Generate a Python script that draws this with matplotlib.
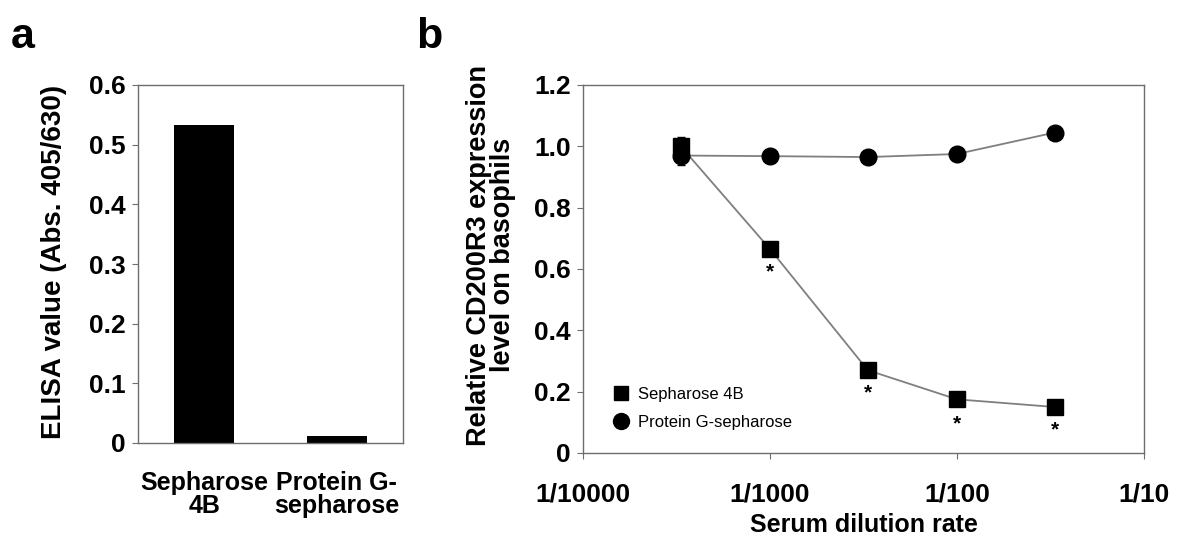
import matplotlib
matplotlib.use("Agg")
import matplotlib.pyplot as plt
from matplotlib.ticker import NullLocator
from matplotlib.lines import Line2D

plt.rcParams['font.family'] = ['Liberation Sans', 'DejaVu Sans']

# panel a
bar_labels = ['Sepharose\n4B', 'Protein G-\nsepharose']
elisa = [0.533, 0.012]

# panel b
dilution = [1/3000, 1/1000, 1/300, 1/100, 1/30]
seph4b = [1.00, 0.665, 0.27, 0.175, 0.15]
seph4b_err = [0.03, 0.01, 0.01, 0.01, 0.01]
protg = [0.97, 0.968, 0.965, 0.975, 1.045]
protg_err = [0.03, 0.005, 0.005, 0.005, 0.015]
star_y = [None, 0.59, 0.195, 0.095, 0.075]
xticks_b = [1e-4, 1e-3, 1e-2, 1e-1]
xticklabels_b = ['1/10000', '1/1000', '1/100', '1/10']

W, H = 1177, 540
fig = plt.figure(figsize=(W / 100, H / 100), dpi=100)

def box(l, t, r, b):
    return [l / W, 1 - b / H, (r - l) / W, (b - t) / H]

spine_col = '#6e6e6e'
TICK_FS = 19

# ---- panel a ----
ax1 = fig.add_axes(box(138, 85, 403, 443))
ax1.bar(range(len(elisa)), elisa, width=0.45, color='black')
ax1.set_xlim(-0.5, 1.5)
ax1.set_ylim(0, 0.6)
ax1.set_yticks([0, 0.1, 0.2, 0.3, 0.4, 0.5, 0.6])
ax1.set_yticklabels(['0', '0.1', '0.2', '0.3', '0.4', '0.5', '0.6'])
ax1.set_xticks(range(len(elisa)))
ax1.set_xticklabels(bar_labels, linespacing=0.95)
ax1.tick_params(axis='x', length=0, pad=20)
ax1.tick_params(axis='y', length=4, color=spine_col, pad=5)
ax1.set_ylabel('ELISA value (Abs. 405/630)', fontsize=20, fontweight='bold')
ax1.yaxis.set_label_coords(-0.267, 0.505)
for lab in ax1.get_xticklabels():
    lab.set_fontsize(18)
    lab.set_fontweight('bold')
for lab in ax1.get_yticklabels():
    lab.set_fontsize(TICK_FS)
    lab.set_fontweight('bold')
for sp in ax1.spines.values():
    sp.set_color(spine_col)
    sp.set_linewidth(1.0)
fig.text(11 / W, 1 - 48 / H, 'a', fontsize=31, fontweight='bold')

# ---- panel b ----
ax2 = fig.add_axes(box(583, 85, 1144, 453))
ax2.set_xscale('log')
ax2.plot(dilution, seph4b, color='#7f7f7f', lw=1.3, zorder=1)
ax2.plot(dilution, protg, color='#7f7f7f', lw=1.3, zorder=1)
ax2.errorbar(dilution, seph4b, yerr=seph4b_err, fmt='s', color='black',
             ms=11, capsize=3, elinewidth=1, zorder=3)
ax2.errorbar(dilution, protg, yerr=protg_err, fmt='o', color='black',
             ms=12, capsize=3, elinewidth=1, zorder=3)
for x, y in zip(dilution, star_y):
    if y is not None:
        ax2.text(x, y, '*', ha='center', va='center', fontsize=15, fontweight='bold')
ax2.set_xlim(1e-4, 1e-1)
ax2.set_ylim(0, 1.2)
ax2.set_xticks(xticks_b)
ax2.set_xticklabels(xticklabels_b)
ax2.xaxis.set_minor_locator(NullLocator())
ax2.set_yticks([0, 0.2, 0.4, 0.6, 0.8, 1.0, 1.2])
ax2.set_yticklabels(['0', '0.2', '0.4', '0.6', '0.8', '1.0', '1.2'])
ax2.tick_params(axis='both', length=4, color=spine_col)
ax2.tick_params(axis='x', pad=17)
ax2.tick_params(axis='y', pad=5)
for lab in ax2.get_xticklabels() + ax2.get_yticklabels():
    lab.set_fontsize(TICK_FS)
    lab.set_fontweight('bold')
ax2.set_xlabel('Serum dilution rate', fontsize=18, fontweight='bold', labelpad=5)
ax2.set_ylabel('Relative CD200R3 expression\nlevel on basophils', fontsize=19.5,
               fontweight='bold', linespacing=0.92)
ax2.yaxis.set_label_coords(-0.119, 0.538)
for sp in ax2.spines.values():
    sp.set_color(spine_col)
    sp.set_linewidth(1.0)
handles = [
    Line2D([], [], ls='none', marker='s', ms=10, color='black', label='Sepharose 4B'),
    Line2D([], [], ls='none', marker='o', ms=11.5, color='black', label='Protein G-sepharose'),
]
ax2.legend(handles=handles, loc='lower left', bbox_to_anchor=(0.035, 0.045),
           frameon=False, fontsize=12, handletextpad=0.3, handlelength=1.4,
           labelspacing=0.75, borderaxespad=0.0)
fig.text(416 / W, 1 - 48 / H, 'b', fontsize=31, fontweight='bold')

fig.savefig('out.png', dpi=100)
